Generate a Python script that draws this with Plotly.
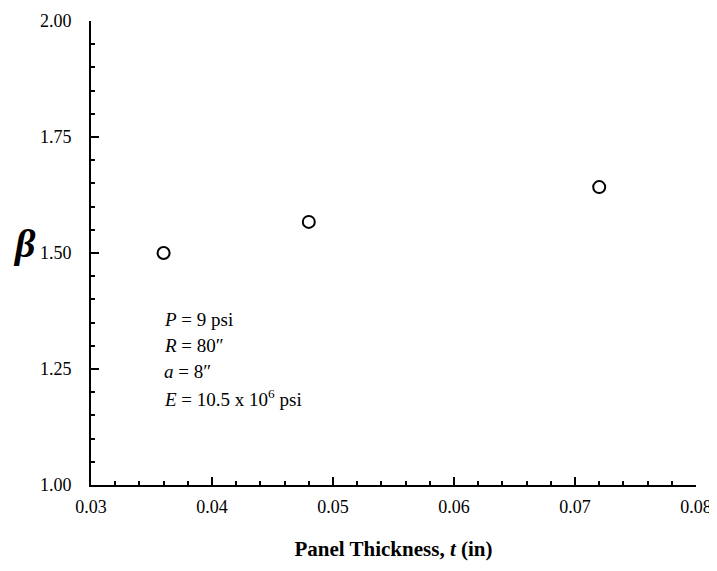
import plotly.graph_objects as go

# Data
thickness = [0.036, 0.048, 0.072]
beta = [1.50, 1.567, 1.642]

x_ticks = [0.03, 0.04, 0.05, 0.06, 0.07, 0.08]
x_labels = ["0.03", "0.04", "0.05", "0.06", "0.07", "0.08"]
y_ticks = [1.00, 1.25, 1.50, 1.75, 2.00]
y_labels = ["1.00", "1.25", "1.50", "1.75", "2.00"]

params = [
    "<i>P</i> = 9 psi",
    "<i>R</i> = 80\u2033",
    "<i>a</i> = 8\u2033",
    "<i>E</i> = 10.5 x 10<sup>6</sup> psi",
]
param_y = [1.356, 1.300, 1.244, 1.188]

FONT = "Liberation Serif, Times New Roman, serif"

fig = go.Figure()
fig.add_trace(go.Scatter(
    x=thickness, y=beta, mode="markers",
    marker=dict(symbol="circle-open", size=12, color="black", line=dict(width=2)),
    showlegend=False,
))

fig.update_xaxes(
    range=[0.03, 0.08], tickvals=x_ticks, ticktext=x_labels,
    showline=True, linecolor="black", linewidth=2, mirror=False,
    ticks="inside", ticklen=8, tickwidth=2, tickcolor="black",
    minor=dict(dtick=0.002, ticks="inside", ticklen=4, tickwidth=1.5, tickcolor="black"),
    showgrid=False, zeroline=False, automargin=False,
    tickfont=dict(family=FONT, size=18, color="black"),
    ticklabelstandoff=4,
    title=dict(text="<b>Panel Thickness, <i>t</i> (in)</b>",
               font=dict(family=FONT, size=21, color="black"), standoff=26),
)
fig.update_yaxes(
    range=[1.0, 2.0], tickvals=y_ticks, ticktext=y_labels,
    showline=True, linecolor="black", linewidth=2, mirror=False,
    ticks="inside", ticklen=8, tickwidth=2, tickcolor="black",
    minor=dict(dtick=0.05, ticks="inside", ticklen=4, tickwidth=1.5, tickcolor="black"),
    showgrid=False, zeroline=False, automargin=False,
    tickfont=dict(family=FONT, size=18, color="black"),
    ticklabelstandoff=14,
)

fig.add_annotation(
    text="<b><i>\u03b2</i></b>", xref="paper", yref="y", x=-0.11, y=1.52,
    xanchor="center", yanchor="middle", showarrow=False,
    font=dict(family=FONT, size=40, color="black"),
)
for txt, yy in zip(params, param_y):
    fig.add_annotation(
        text=txt, xref="x", yref="y", x=0.0359, y=yy,
        xanchor="left", yanchor="middle", align="left", showarrow=False,
        font=dict(family=FONT, size=19, color="black"),
    )

fig.update_layout(
    width=717, height=571,
    margin=dict(l=83, r=29, t=13, b=94),
    paper_bgcolor="white", plot_bgcolor="white",
    font=dict(family=FONT, color="black"),
)

fig.write_html("out.html")
